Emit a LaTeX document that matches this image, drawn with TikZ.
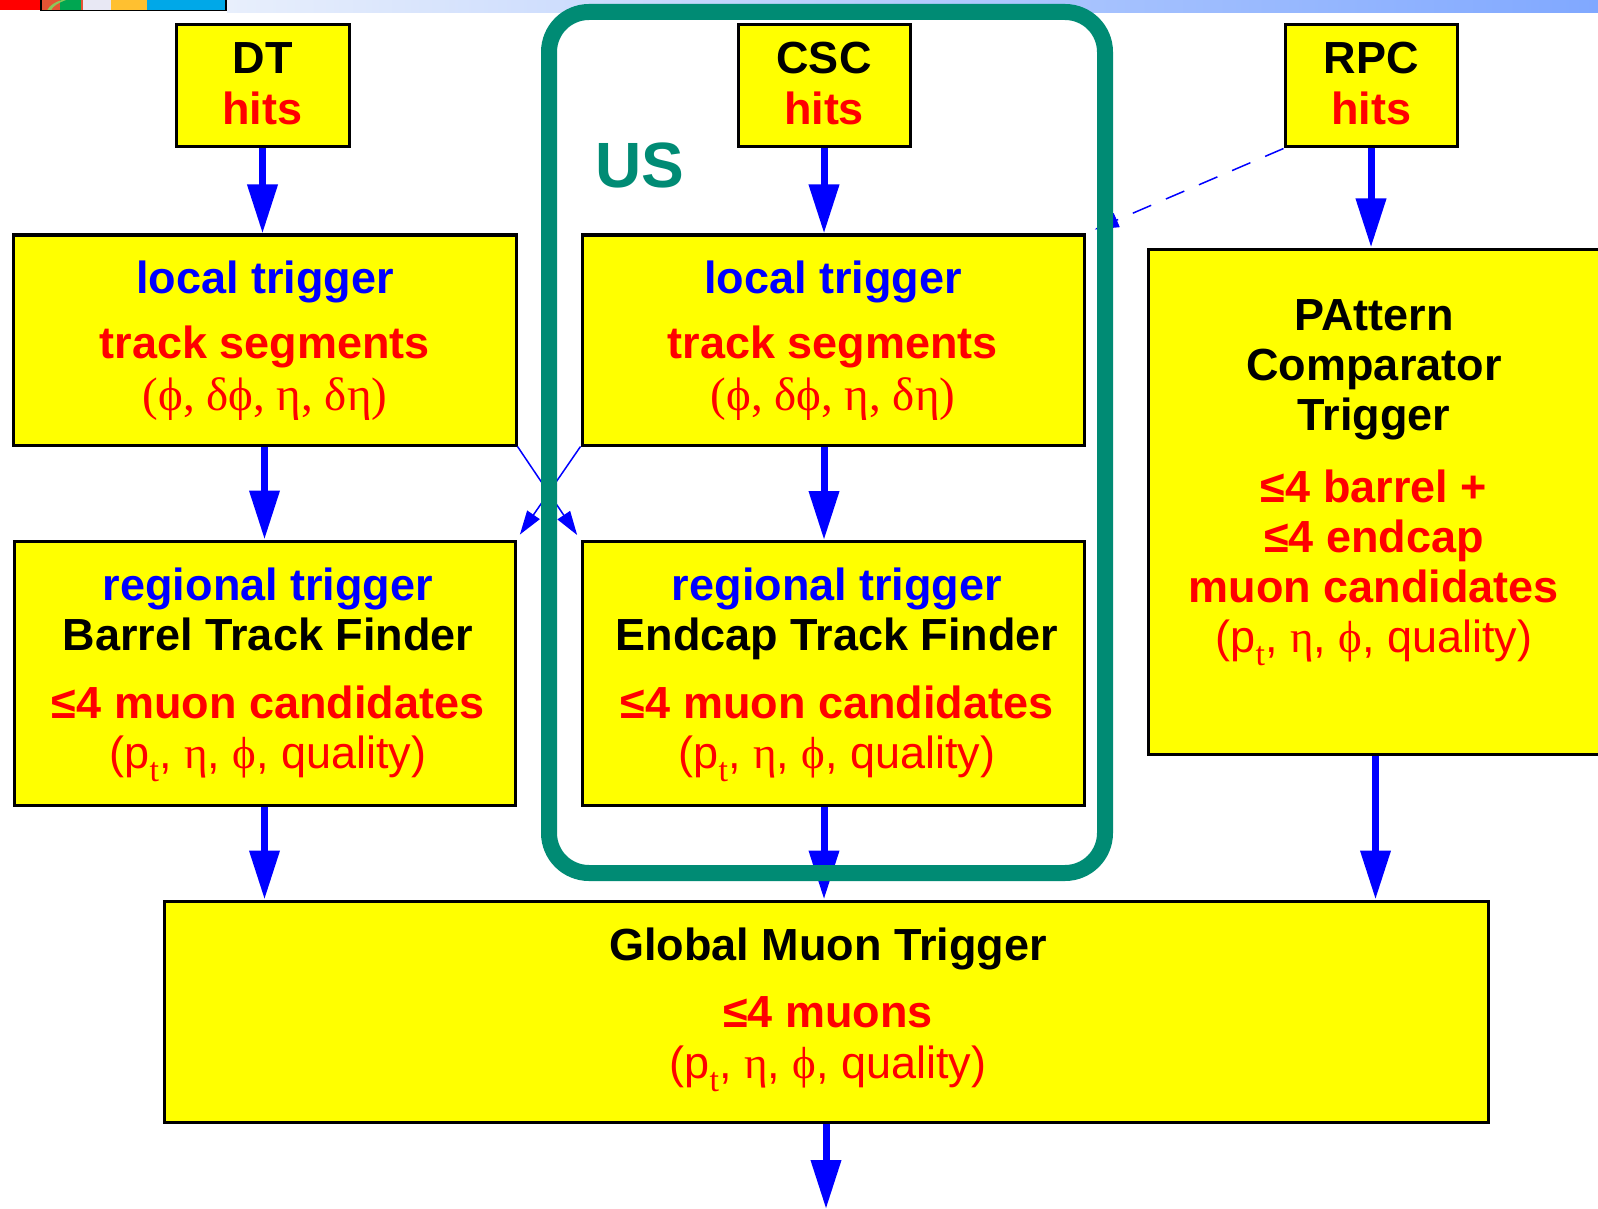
\documentclass[tikz,border=0pt]{standalone}
\usepackage{fontspec}
\setmainfont{Liberation Sans}
\newfontfamily\grk{Liberation Serif}
\usetikzlibrary{arrows.meta}

\definecolor{boxyellow}{RGB}{255,255,0}
\definecolor{usteal}{RGB}{0,139,116}
\definecolor{flowblue}{RGB}{0,0,255}
\definecolor{txtred}{RGB}{255,0,0}
\definecolor{barlight}{RGB}{232,239,252}
\definecolor{bardark}{RGB}{128,168,255}
\definecolor{hdrred}{RGB}{255,0,0}
\definecolor{hdrorange}{RGB}{228,84,52}
\definecolor{hdrgreen}{RGB}{0,166,81}
\definecolor{hdrlime}{RGB}{140,200,90}
\definecolor{hdrlav}{RGB}{232,232,244}
\definecolor{hdryellow}{RGB}{255,192,48}
\definecolor{hdrcyan}{RGB}{0,168,232}

% serif subscript t for p_t
\newcommand{\ptsub}{p\raisebox{-0.3em}{\fontsize{34}{34}\selectfont\grk t}}

\tikzset{
  box/.style={draw=black, line width=3pt, fill=boxyellow, inner sep=0pt},
  txt/.style={anchor=base, inner sep=0pt, font=\fontsize{45}{50}\selectfont\bfseries},
  tblack/.style={txt, text=black},
  tblue/.style={txt, text=flowblue},
  tred/.style={txt, text=txtred},
  tredreg/.style={anchor=base, inner sep=0pt, text=txtred, font=\fontsize{45}{50}\selectfont},
  tgreek/.style={anchor=base, inner sep=0pt, text=txtred, font=\fontsize{47}{50}\selectfont\grk},
  flow/.style={draw=flowblue, line width=7pt, -{Triangle[length=49pt,width=29pt]}},
  thinflow/.style={draw=flowblue, line width=1.5pt, -{Triangle[length=24pt,width=15pt]}},
  usframe/.style={draw=usteal, line width=16pt, rounded corners=40pt},
}

\begin{document}
\begin{tikzpicture}[x=1pt,y=-1pt]
\useasboundingbox (0,0) rectangle (1598,1209);

% slide header strip
\fill[hdrred] (0,0) rectangle (41,10.5);
\fill[hdrorange] (41,0) rectangle (83,10.5);
\fill[hdrgreen] (60,0) rectangle (81,10.5);
\fill[hdrlime] (47,10.5) .. controls (50,5) and (55,2) .. (62,0) -- (66,0) .. controls (58,3) and (53,6) .. (51,10.5) -- cycle;
\fill[hdrlav] (83,0) rectangle (111,10.5);
\fill[hdryellow] (111,0) rectangle (147,10.5);
\fill[hdrcyan] (147,0) rectangle (226,10.5);
\draw[line width=1.2pt] (41,0) -- (41,10.5) -- (226,10.5) -- (226,0);
\shade[left color=barlight, right color=bardark] (227,0) rectangle (1598,13);

% boxes
\node[box, minimum width=173pt, minimum height=122pt] (dt)  at (262.5,86) {};
\node[box, minimum width=172pt, minimum height=122pt] (csc) at (824,86) {};
\node[box, minimum width=172pt, minimum height=122pt] (rpc) at (1371,86) {};
\node[box, minimum width=503pt, minimum height=210pt] (lt1) at (264.5,340) {};
\node[box, minimum width=502pt, minimum height=210pt] (lt2) at (833,340) {};
\node[box, minimum width=501pt, minimum height=264pt] (rt1) at (264.5,673) {};
\node[box, minimum width=502pt, minimum height=264pt] (rt2) at (833,673.5) {};
\node[box, minimum width=455pt, minimum height=505pt] (pact) at (1375.5,501.5) {};
\node[box, minimum width=1324pt, minimum height=221pt] (gmt) at (826,1011.5) {};

% hit boxes
\node[tblack] (dtA) at (262.5,74) {DT};
\node[tred]   (dtB) at (262.5,125) {hits};
\node[tblack] (cscA) at (824,74) {CSC};
\node[tred]   (cscB) at (824,125) {hits};
\node[tblack] (rpcA) at (1371,74) {RPC};
\node[tred]   (rpcB) at (1371,125) {hits};

% US label
\node[anchor=base, inner sep=0pt, text=usteal, font=\fontsize{64}{64}\selectfont\bfseries] (us) at (640,188) {US};

% local triggers
\node[tblue]  (lt1A) at (265,293) {local trigger};
\node[tred]   (lt1B) at (265,358) {track segments};
\node[tgreek] (lt1C) at (265,410) {(ϕ, δϕ, η, δη)};
\node[tblue]  (lt2A) at (833,293) {local trigger};
\node[tred]   (lt2B) at (833,358) {track segments};
\node[tgreek] (lt2C) at (833,410) {(ϕ, δϕ, η, δη)};

% regional triggers
\node[tblue]  (rt1A) at (268,600) {regional trigger};
\node[tblack] (rt1B) at (268,650) {Barrel Track Finder};
\node[tred]   (rt1C) at (268,718) {≤4 muon candidates};
\node[tredreg] (rt1D) at (268,768) {(\ptsub, {\grk η}, {\grk ϕ}, quality)};
\node[tblue]  (rt2A) at (837,600) {regional trigger};
\node[tblack] (rt2B) at (837,650) {Endcap Track Finder};
\node[tred]   (rt2C) at (837,718) {≤4 muon candidates};
\node[tredreg] (rt2D) at (837,768) {(\ptsub, {\grk η}, {\grk ϕ}, quality)};

% pattern comparator trigger
\node[tblack] (pA) at (1374,330) {PAttern};
\node[tblack] (pB) at (1374,380) {Comparator};
\node[tblack] (pC) at (1374,430) {Trigger};
\node[tred]   (pD) at (1374,502) {≤4 barrel +};
\node[tred]   (pE) at (1374,552) {≤4 endcap};
\node[tred]   (pF) at (1374,602) {muon candidates};
\node[tredreg] (pG) at (1374,652) {(\ptsub, {\grk η}, {\grk ϕ}, quality)};

% global muon trigger
\node[tblack] (gA) at (828,960) {Global Muon Trigger};
\node[tred]   (gB) at (828,1027) {≤4 muons};
\node[tredreg] (gC) at (828,1078) {(\ptsub, {\grk η}, {\grk ϕ}, quality)};

% data flow
\coordinate (out) at (826,1209);
\draw[flow] (dt.south) -- (dt.south |- lt1.north);
\draw[flow] (lt1.south) -- (rt1.north);
\draw[flow] (rt1.south) -- (rt1.south |- gmt.north);
\draw[flow] (csc.south) -- (csc.south |- lt2.north);
\draw[flow] (csc.south |- lt2.south) -- (csc.south |- rt2.north);
\draw[flow] (csc.south |- rt2.south) -- (csc.south |- gmt.north);
\draw[flow] (gmt.south) -- (out);
\draw[flow] (rpc.south) -- (rpc.south |- pact.north);
\draw[flow] (pact.south) -- (pact.south |- gmt.north);

% crossing links between barrel and endcap
\draw[thinflow, shorten >=6pt] (lt1.south east) -- (rt2.north west);
\draw[thinflow, shorten >=6pt] (lt2.south west) -- (rt1.north east);
\draw[thinflow, dash pattern=on 20pt off 16pt, shorten >=10pt] (rpc.south west) -- (lt2.north east);

% US responsibility frame
\draw[usframe] (549,12) rectangle (1105,873);
\end{tikzpicture}
\end{document}
